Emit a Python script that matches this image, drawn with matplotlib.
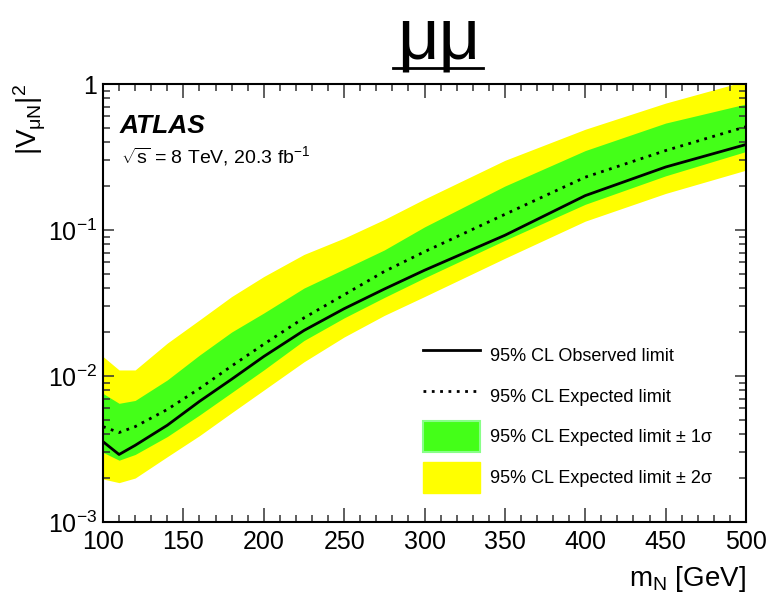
import matplotlib
matplotlib.use("Agg")
import matplotlib.pyplot as plt
from matplotlib.lines import Line2D
from matplotlib.patches import Patch
from matplotlib.ticker import MultipleLocator, LogLocator, NullFormatter, FixedFormatter, FixedLocator

plt.rcParams['font.family'] = ['Liberation Sans', 'DejaVu Sans']
plt.rcParams['mathtext.fontset'] = 'custom'
plt.rcParams['mathtext.rm'] = 'Liberation Sans'
plt.rcParams['mathtext.it'] = 'Liberation Sans'
plt.rcParams['mathtext.bf'] = 'Liberation Sans:bold'

# heavy neutrino mass points [GeV]
mass = [100, 110, 120, 140, 160, 180, 200, 225, 250, 275, 300, 350, 400, 450, 500]

# 95% CL limits on |V_muN|^2
observed = [3.55e-3, 2.9e-3, 3.35e-3, 4.6e-3, 6.7e-3, 9.5e-3, 0.0136, 0.0205,
            0.0289, 0.0394, 0.053, 0.092, 0.172, 0.27, 0.385]
expected = [4.5e-3, 4.1e-3, 4.5e-3, 5.9e-3, 8.2e-3, 0.0117, 0.0165, 0.025,
            0.036, 0.052, 0.071, 0.128, 0.23, 0.35, 0.51]
exp_p1 = [7.6e-3, 6.5e-3, 6.8e-3, 9.4e-3, 0.0139, 0.020, 0.027, 0.040,
          0.054, 0.073, 0.105, 0.20, 0.35, 0.54, 0.73]
exp_m1 = [3.0e-3, 2.65e-3, 2.9e-3, 3.85e-3, 5.4e-3, 7.7e-3, 0.011, 0.0175,
          0.025, 0.0345, 0.047, 0.085, 0.150, 0.235, 0.345]
exp_p2 = [0.0136, 0.011, 0.011, 0.0168, 0.0242, 0.035, 0.048, 0.068,
          0.088, 0.118, 0.163, 0.30, 0.49, 0.74, 1.05]
exp_m2 = [1.97e-3, 1.86e-3, 2.0e-3, 2.8e-3, 3.9e-3, 5.6e-3, 8.0e-3, 0.0125,
          0.0185, 0.026, 0.035, 0.064, 0.115, 0.178, 0.257]

ytick_vals = [1e-3, 1e-2, 1e-1, 1]
ytick_labels = [r'$10^{-3}$', r'$10^{-2}$', r'$10^{-1}$', '1']

green = '#44ff18'
yellow = '#ffff00'
dots = (0, (1, 2))

fig = plt.figure(figsize=(7.66, 5.96), dpi=100)
ax = fig.add_axes([103 / 766, 74 / 596, 643 / 766, 438 / 596])

ax.fill_between(mass, exp_m2, exp_p2, color=yellow, lw=0)
ax.fill_between(mass, exp_m1, exp_p1, color=green, lw=0)
ax.plot(mass, expected, color='black', lw=2.0, linestyle=dots)
ax.plot(mass, observed, color='black', lw=2.0)

ax.set_yscale('log')
ax.set_xlim(100, 500)
ax.set_ylim(1e-3, 1)

ax.xaxis.set_major_locator(MultipleLocator(50))
ax.xaxis.set_minor_locator(MultipleLocator(10))
ax.yaxis.set_major_locator(FixedLocator(ytick_vals))
ax.yaxis.set_major_formatter(FixedFormatter(ytick_labels))
ax.yaxis.set_minor_locator(LogLocator(base=10, subs=range(2, 10)))
ax.yaxis.set_minor_formatter(NullFormatter())

for s in ax.spines.values():
    s.set_linewidth(1.5)
ax.tick_params(which='both', direction='in', top=True, right=True,
               width=1.1, color='#333333', labelsize=18)
ax.tick_params(axis='x', which='major', length=10, pad=6)
ax.tick_params(axis='x', which='minor', length=5)
ax.tick_params(axis='y', which='major', length=8, pad=4)
ax.tick_params(axis='y', which='minor', length=5)

ax.set_xlabel(r'm$_{\rm N}$ [GeV]', fontsize=20, loc='right')
ax.xaxis.set_label_coords(1.0, -0.095)
ax.set_ylabel(r'$|V_{\mu N}|^{2}$', fontsize=20, loc='top')
ax.yaxis.set_label_coords(-0.085, 1.0)

ax.text(0.026, 0.905, 'ATLAS', transform=ax.transAxes, fontsize=19,
        fontweight='bold', fontstyle='italic', va='center')
ax.text(0.028, 0.835, r'$\sqrt{s}$ = 8 TeV, 20.3 fb$^{-1}$',
        transform=ax.transAxes, fontsize=14, va='center')

handles = [
    Line2D([], [], color='black', lw=2.0),
    Line2D([], [], color='black', lw=2.0, linestyle=dots),
    Patch(facecolor=green, edgecolor='#88ff88', lw=1.5),
    Patch(facecolor=yellow, edgecolor=yellow),
]
labels = ['95% CL Observed limit', '95% CL Expected limit',
          u'95% CL Expected limit \u00b1 1\u03c3', u'95% CL Expected limit \u00b1 2\u03c3']
ax.legend(handles, labels, loc='center left', bbox_to_anchor=(0.4977, 0.241),
          frameon=False, fontsize=13, borderpad=0, borderaxespad=0,
          handlelength=3.16, handleheight=2.27, handletextpad=0.55,
          labelspacing=0.54)

# title with underline
fig.text(439 / 766, 1 - 58 / 596, u'\u03bc\u03bc', fontsize=52, ha='center',
         va='baseline')
fig.add_artist(Line2D([393 / 766, 483 / 766], [1 - 68 / 596, 1 - 68 / 596],
                      color='black', lw=2))

fig.savefig('out.png', dpi=100)
